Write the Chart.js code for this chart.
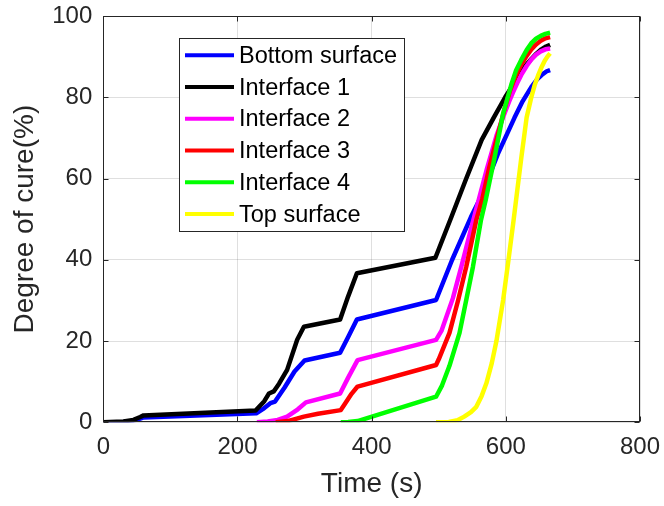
<!DOCTYPE html>
<html><head><meta charset="utf-8">
<script src="https://cdn.jsdelivr.net/npm/chart.js@4.4.0/dist/chart.umd.min.js"></script>
<style>html,body{margin:0;padding:0;background:#fff}#wrap{width:664px;height:506px}</style>
</head><body><div id="wrap"><canvas id="c" width="664" height="506"></canvas></div>
<script>
const xTicks = [0, 200, 400, 600, 800];
const yTicks = [0, 20, 40, 60, 80, 100];
const seriesNames = ['Bottom surface', 'Interface 1', 'Interface 2', 'Interface 3', 'Interface 4', 'Top surface'];
const seriesColors = ['#0000ff', '#000000', '#ff00ff', '#ff0000', '#00ff00', '#ffff00'];

const bottomT = [0,30,45,55,60,228,240,249,256,270,285,300,353,365,378,496,520,548,563,588,613,625,638,647,655,661,666];
const bottomV = [0,0.1,0.4,0.9,1.2,2.2,3.5,4.7,5.1,8.5,12.5,15.2,17.1,21,25.3,30.1,40,50.5,55.5,66,75,79,82.5,84.5,85.7,86.4,86.7];

const if1T = [0,30,45,55,60,227,240,247,254,262,274,289,299,353,365,378,495,519,541,564,582,599,609,619,628,638,646,653,660,666];
const if1V = [0,0.2,0.6,1.3,1.7,2.9,5.2,7.1,7.6,9.5,12.9,20.3,23.5,25.3,31,36.7,40.5,50.6,60,69.5,75,80,82.6,85.3,87.5,89.4,90.8,91.8,92.5,92.9];

const if2T = [229,245,260,274,290,302,353,365,379,496,504,521,534,548,560,572,586,598,605,611,617,623,631,638,645,652,659,666];
const if2V = [0,0.2,0.6,1.4,3.2,4.9,7.1,11,15.3,20.3,22.5,30.5,38.5,47.5,55,62.5,70.5,76,79,81.3,83.5,85.5,87.7,89.3,90.5,91.3,91.8,92];

const if3T = [257,275,299,320,354,360,370,379,496,500,516,529,541,556,565,575,590,598,606,614,623,631,638,645,652,659,666];
const if3V = [0,0.3,1.4,2.1,3,4.5,7,8.8,14.1,15.5,22,30.1,38.3,49.8,55,62.5,72,77,81.5,85,88,90.2,91.8,93,93.9,94.5,94.8];

const if4T = [354,365,379,496,505,516,531,541,551,563,570,583,596,608,615,623,631,638,645,652,659,666];
const if4V = [0,0.05,0.3,6.3,9.1,13.9,22,30.1,38.3,49.8,54.7,65,76,83,86.5,89.2,91.6,93.3,94.4,95.1,95.6,95.9];

const topT = [496,515,528,538,548,556,564,571,579,586,596,604,611,617,623,631,638,643,648,653,658,662,666];
const topV = [0,0.1,0.5,1.4,2.5,3.8,6.5,9.6,14.5,20,30.1,40,49,57,65,75,80,83,85.3,87.3,89,90,90.8];

const seriesT = [bottomT, if1T, if2T, if3T, if4T, topT];
const seriesV = [bottomV, if1V, if2V, if3V, if4V, topV];

const FONT = "'Liberation Sans', Arial, Helvetica, sans-serif";
const AXC = '#262626';

const datasets = seriesNames.map((name, i) => ({
  label: name,
  data: seriesT[i].map((t, j) => ({ x: t, y: seriesV[i][j] })),
  borderColor: seriesColors[i],
  backgroundColor: seriesColors[i],
  borderWidth: 4.5,
  pointRadius: 0,
  showLine: true,
  fill: false,
  tension: 0,
  borderJoinStyle: 'round',
  order: 6 - i
}));

const framePlugin = {
  id: 'frame',
  afterDatasetsDraw(chart) {
    const ctx = chart.ctx, a = chart.chartArea;
    const xs = chart.scales.x, ys = chart.scales.y;
    ctx.save();
    ctx.strokeStyle = AXC;
    ctx.lineWidth = 1;
    const L = Math.round(a.left) + 0.5, R = Math.round(a.right) - 0.5;
    const T = Math.round(a.top) + 0.5, B = Math.round(a.bottom) - 0.5;
    ctx.strokeRect(L, T, R - L, B - T);
    const tl = 5;
    ctx.beginPath();
    xTicks.forEach(v => {
      const px = Math.round(xs.getPixelForValue(v)) + 0.5;
      ctx.moveTo(px, B); ctx.lineTo(px, B - tl);
      ctx.moveTo(px, T); ctx.lineTo(px, T + tl);
    });
    yTicks.forEach(v => {
      const py = Math.round(ys.getPixelForValue(v)) + 0.5;
      ctx.moveTo(L, py); ctx.lineTo(L + tl, py);
      ctx.moveTo(R, py); ctx.lineTo(R - tl, py);
    });
    ctx.stroke();
    ctx.restore();
  },
  afterDraw(chart) {
    const ctx = chart.ctx;
    ctx.save();
    const bx = 179.5, by = 38.5, bw = 225, bh = 193;
    ctx.fillStyle = '#fff';
    ctx.fillRect(bx, by, bw, bh);
    ctx.strokeStyle = AXC;
    ctx.lineWidth = 1;
    ctx.strokeRect(bx, by, bw, bh);
    ctx.font = '23.5px ' + FONT;
    ctx.textBaseline = 'middle';
    ctx.textAlign = 'left';
    seriesNames.forEach((n, i) => {
      const y = 55.3 + i * 31.75;
      ctx.strokeStyle = seriesColors[i];
      ctx.lineWidth = 4;
      ctx.beginPath();
      ctx.moveTo(185, y); ctx.lineTo(234, y);
      ctx.stroke();
      ctx.fillStyle = '#000';
      ctx.fillText(n, 239, y + 1);
    });
    ctx.restore();
  }
};

new Chart(document.getElementById('c'), {
  type: 'scatter',
  data: { datasets },
  plugins: [framePlugin],
  options: {
    responsive: false,
    animation: false,
    devicePixelRatio: 1,
    layout: { padding: { top: 16, right: 24, left: 0, bottom: 0 } },
    plugins: { legend: { display: false }, tooltip: { enabled: false } },
    scales: {
      x: {
        type: 'linear', min: 0, max: 800,
        afterBuildTicks: s => { s.ticks = xTicks.map(v => ({ value: v })); },
        afterFit: s => { s.height = 83.7; s.paddingLeft = 0; s.paddingRight = 0; },
        grid: { color: 'rgba(38,38,38,0.15)', drawTicks: false },
        border: { display: false },
        ticks: { font: { size: 24, family: FONT }, color: AXC, padding: 11, maxRotation: 0 },
        title: { display: true, text: 'Time (s)', font: { size: 28, family: FONT }, color: AXC, padding: { top: 0, bottom: 5 } }
      },
      y: {
        type: 'linear', min: 0, max: 100,
        afterBuildTicks: s => { s.ticks = yTicks.map(v => ({ value: v })); },
        afterFit: s => { s.width = 103.3; s.paddingTop = 0; s.paddingBottom = 0; },
        grid: { color: 'rgba(38,38,38,0.15)', drawTicks: false },
        border: { display: false },
        ticks: { font: { size: 24, family: FONT }, color: AXC, padding: 11 },
        title: { display: true, text: 'Degree of cure(%)', font: { size: 28, family: FONT }, color: AXC, padding: { top: 8, bottom: 0 } }
      }
    }
  }
});
</script>
</body></html>
